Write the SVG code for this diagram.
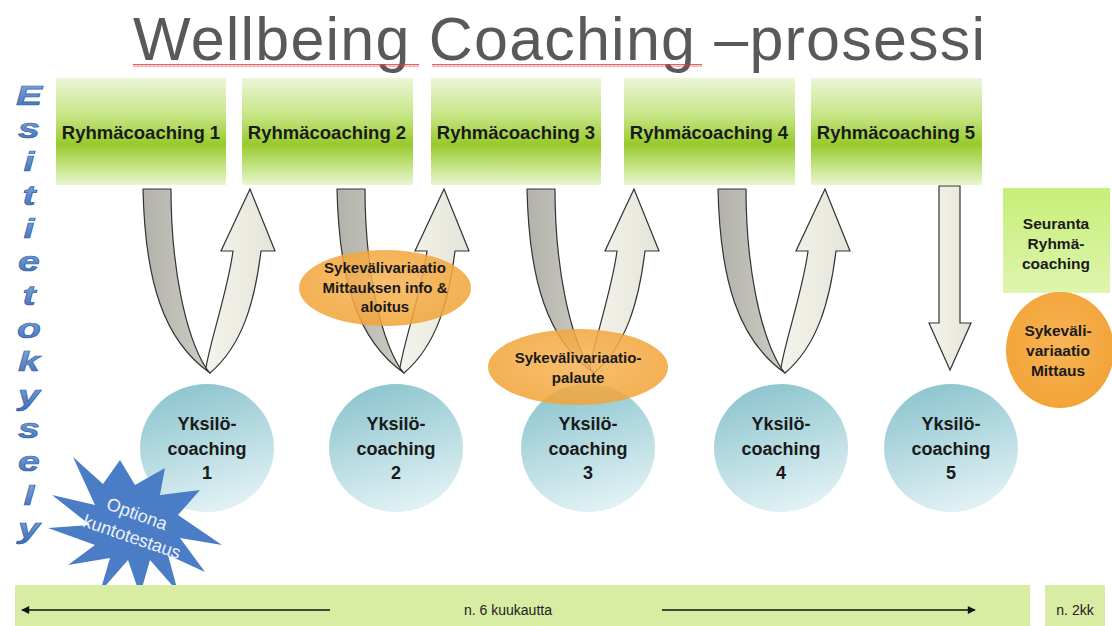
<svg xmlns="http://www.w3.org/2000/svg" width="1112" height="626" viewBox="0 0 1112 626">
  <defs>
    <style>
      .lbl { font-family: "Liberation Sans", Arial, sans-serif; font-weight: bold; fill: #1a1a1a; text-anchor: middle; }
      .box-lbl { font-size: 18.5px; }
      .circ-lbl { font-size: 18px; }
      .oval-lbl { font-size: 15px; }
      .side-lbl { font-size: 15.5px; }
      .box { fill: url(#gBox); }
      .circ { fill: url(#gCircle); }
      .oval { fill: url(#gOrange); }
      .down { fill: url(#gDown); stroke: #333; stroke-width: 1.2; stroke-linejoin: round; }
      .up { fill: url(#gUp); stroke: #333; stroke-width: 1.2; stroke-linejoin: miter; }
      .letter { font-family: "Liberation Sans", Arial, sans-serif; font-weight: 900; font-style: italic; font-size: 28px; fill: url(#gBlue); stroke: #2f5d9e; stroke-width: 0.6; text-anchor: middle; }
      .bar-lbl { font-family: "Liberation Sans Narrow", "Liberation Sans", Arial, sans-serif; font-size: 14px; fill: #222; text-anchor: middle; }
      .span { stroke: #111; stroke-width: 1.5; fill: none; marker-end: url(#tip); }
    </style>
    <linearGradient id="gBox" x1="0" y1="0" x2="0" y2="1">
      <stop offset="0" stop-color="#ecf6d8"/>
      <stop offset="0.35" stop-color="#c6e585"/>
      <stop offset="0.62" stop-color="#98ca2c"/>
      <stop offset="0.85" stop-color="#c9e78e"/>
      <stop offset="1" stop-color="#e9f5d2"/>
    </linearGradient>
    <linearGradient id="gSeur" x1="0" y1="0" x2="0" y2="1">
      <stop offset="0" stop-color="#c6ee78"/>
      <stop offset="1" stop-color="#def5ae"/>
    </linearGradient>
    <linearGradient id="gCircle" x1="0.2" y1="0" x2="0.5" y2="1">
      <stop offset="0" stop-color="#8ac3cd"/>
      <stop offset="1" stop-color="#e0f1f4"/>
    </linearGradient>
    <radialGradient id="gOrange" cx="0.5" cy="0.45" r="0.6">
      <stop offset="0" stop-color="#f7b457"/>
      <stop offset="1" stop-color="#f1a234"/>
    </radialGradient>
    <linearGradient id="gDown" x1="0" y1="0" x2="1" y2="0">
      <stop offset="0" stop-color="#b2b2aa"/>
      <stop offset="1" stop-color="#cdcdc5"/>
    </linearGradient>
    <linearGradient id="gUp" x1="0" y1="0" x2="1" y2="0">
      <stop offset="0" stop-color="#f4f4ec"/>
      <stop offset="1" stop-color="#e4e4da"/>
    </linearGradient>
    <linearGradient id="gBlue" x1="0" y1="0" x2="0" y2="1">
      <stop offset="0" stop-color="#86aee6"/>
      <stop offset="1" stop-color="#3d6db6"/>
    </linearGradient>
    <pattern id="squiggle" width="4" height="3" patternUnits="userSpaceOnUse">
      <path d="M0,2.5 L1,0.5 L2,2.5 L3,0.5 L4,2.5" stroke="#e03a3a" stroke-width="0.8" fill="none"/>
    </pattern>
    <marker id="tip" viewBox="0 0 10 10" refX="9" refY="5" markerWidth="9" markerHeight="8" markerUnits="userSpaceOnUse" orient="auto">
      <path d="M0,0 L10,5 L0,10 Z" fill="#111"/>
    </marker>
    <!-- twisted U-turn ribbon: grey strip goes down, light strip comes back up -->
    <g id="uturn">
      <path class="down" d="M0,189 L28,189 C28,265 42,335 63,368 L67,373 C20,340 2,280 0,189 Z"/>
      <path class="up" d="M63,368 C66,345 85,290 90,251 L78,251 L107,189 L132,251 L118,251 C112,300 100,345 67,373 Z"/>
    </g>
  </defs>

  <rect width="1112" height="626" fill="#ffffff"/>

  <!-- title -->
  <g id="title">
    <text x="133" y="60" font-family="Liberation Sans, Arial, sans-serif" font-size="61" fill="#595959" textLength="852" lengthAdjust="spacing">Wellbeing Coaching –prosessi</text>
    <rect x="133" y="64" width="286" height="3" fill="url(#squiggle)"/>
    <rect x="432" y="64" width="270" height="3" fill="url(#squiggle)"/>
  </g>

  <!-- vertical survey label -->
  <g id="esitietokysely" transform="translate(29,0) scale(1.4,1)">
    <text class="letter" x="0" y="105">E</text>
    <text class="letter" x="0" y="138">s</text>
    <text class="letter" x="0" y="171">i</text>
    <text class="letter" x="0" y="205">t</text>
    <text class="letter" x="0" y="238">i</text>
    <text class="letter" x="0" y="271">e</text>
    <text class="letter" x="0" y="305">t</text>
    <text class="letter" x="0" y="338">o</text>
    <text class="letter" x="0" y="371">k</text>
    <text class="letter" x="0" y="405">y</text>
    <text class="letter" x="0" y="438">s</text>
    <text class="letter" x="0" y="471">e</text>
    <text class="letter" x="0" y="505">l</text>
    <text class="letter" x="0" y="538">y</text>
  </g>

  <!-- group coaching sessions -->
  <g id="ryhma1"><rect class="box" x="56" y="78" width="170" height="107"/><text class="lbl box-lbl" x="141" y="139">Ryhmäcoaching 1</text></g>
  <g id="ryhma2"><rect class="box" x="242" y="78" width="171" height="107"/><text class="lbl box-lbl" x="327" y="139">Ryhmäcoaching 2</text></g>
  <g id="ryhma3"><rect class="box" x="431" y="78" width="170" height="107"/><text class="lbl box-lbl" x="516" y="139">Ryhmäcoaching 3</text></g>
  <g id="ryhma4"><rect class="box" x="624" y="78" width="171" height="107"/><text class="lbl box-lbl" x="709" y="139">Ryhmäcoaching 4</text></g>
  <g id="ryhma5"><rect class="box" x="811" y="78" width="171" height="107"/><text class="lbl box-lbl" x="896" y="139">Ryhmäcoaching 5</text></g>

  <!-- connectors between group and individual sessions -->
  <g id="connectors">
    <use href="#uturn" transform="translate(143,0)"/>
    <use href="#uturn" transform="translate(337,0)"/>
    <use href="#uturn" transform="translate(527,0)"/>
    <use href="#uturn" transform="translate(718,0)"/>
    <path class="up" d="M939,186 L960,186 L960,323 L971,323 L950,370 L929,323 L939,323 Z"/>
  </g>

  <!-- individual coaching sessions -->
  <g id="yksilo1"><ellipse class="circ" cx="207" cy="448" rx="67" ry="64"/><text class="lbl circ-lbl" x="207" y="430">Yksilö-</text><text class="lbl circ-lbl" x="207" y="455">coaching</text><text class="lbl circ-lbl" x="207" y="479">1</text></g>
  <g id="yksilo2"><ellipse class="circ" cx="396" cy="448" rx="67" ry="64"/><text class="lbl circ-lbl" x="396" y="430">Yksilö-</text><text class="lbl circ-lbl" x="396" y="455">coaching</text><text class="lbl circ-lbl" x="396" y="479">2</text></g>
  <g id="yksilo3"><ellipse class="circ" cx="588" cy="448" rx="67" ry="64"/><text class="lbl circ-lbl" x="588" y="430">Yksilö-</text><text class="lbl circ-lbl" x="588" y="455">coaching</text><text class="lbl circ-lbl" x="588" y="479">3</text></g>
  <g id="yksilo4"><ellipse class="circ" cx="781" cy="448" rx="67" ry="64"/><text class="lbl circ-lbl" x="781" y="430">Yksilö-</text><text class="lbl circ-lbl" x="781" y="455">coaching</text><text class="lbl circ-lbl" x="781" y="479">4</text></g>
  <g id="yksilo5"><ellipse class="circ" cx="951" cy="448" rx="67" ry="64"/><text class="lbl circ-lbl" x="951" y="430">Yksilö-</text><text class="lbl circ-lbl" x="951" y="455">coaching</text><text class="lbl circ-lbl" x="951" y="479">5</text></g>

  <!-- heart rate variability milestones -->
  <g id="hrv-aloitus">
    <ellipse class="oval" cx="385" cy="288" rx="86" ry="38" opacity="0.86"/>
    <text class="lbl oval-lbl" x="385" y="273">Sykevälivariaatio</text>
    <text class="lbl oval-lbl" x="385" y="293">Mittauksen info &amp;</text>
    <text class="lbl oval-lbl" x="385" y="312">aloitus</text>
  </g>
  <g id="hrv-palaute">
    <ellipse class="oval" cx="578" cy="367" rx="90" ry="38" opacity="0.86"/>
    <text class="lbl oval-lbl" x="578" y="363">Sykevälivariaatio-</text>
    <text class="lbl oval-lbl" x="578" y="383">palaute</text>
  </g>

  <!-- follow-up -->
  <g id="seuranta">
    <rect x="1003" y="188" width="107" height="105" fill="url(#gSeur)"/>
    <text class="lbl side-lbl" x="1056" y="229">Seuranta</text>
    <text class="lbl side-lbl" x="1056" y="249">Ryhmä-</text>
    <text class="lbl side-lbl" x="1056" y="269">coaching</text>
  </g>
  <g id="hrv-mittaus">
    <ellipse class="oval" cx="1060" cy="350" rx="54" ry="58"/>
    <text class="lbl side-lbl" x="1058" y="336">Sykeväli-</text>
    <text class="lbl side-lbl" x="1058" y="356">variaatio</text>
    <text class="lbl side-lbl" x="1058" y="376">Mittaus</text>
  </g>

  <!-- optional fitness test burst -->
  <g id="kuntotestaus">
    <polygon fill="#4b7dc7" points="73,457 103,484 120,460 135,485 165,468 160,495 200,490 178,515 222,545 180,538 205,572 168,555 178,592 150,560 140,595 128,560 100,592 110,558 68,565 95,545 48,528 90,525 52,495 95,505"/>
    <text x="137" y="520" transform="rotate(20 137 514)" font-family="Liberation Sans, Arial, sans-serif" font-size="18" fill="#eef2fa" text-anchor="middle">Optiona</text>
    <text x="132" y="543" transform="rotate(19 132 537)" font-family="Liberation Sans, Arial, sans-serif" font-size="18" fill="#eef2fa" text-anchor="middle">kuntotestaus</text>
  </g>

  <!-- timeline -->
  <g id="timeline">
    <rect x="15" y="585" width="1015" height="41" fill="#d9eca4"/>
    <line class="span" x1="330" y1="610" x2="22" y2="610"/>
    <line class="span" x1="662" y1="610" x2="975" y2="610"/>
    <text class="bar-lbl" x="508" y="615">n. 6 kuukautta</text>
  </g>
  <g id="timeline-followup">
    <rect x="1045" y="585" width="60" height="41" fill="#d9eca4"/>
    <text class="bar-lbl" x="1075" y="615">n. 2kk</text>
  </g>
</svg>
